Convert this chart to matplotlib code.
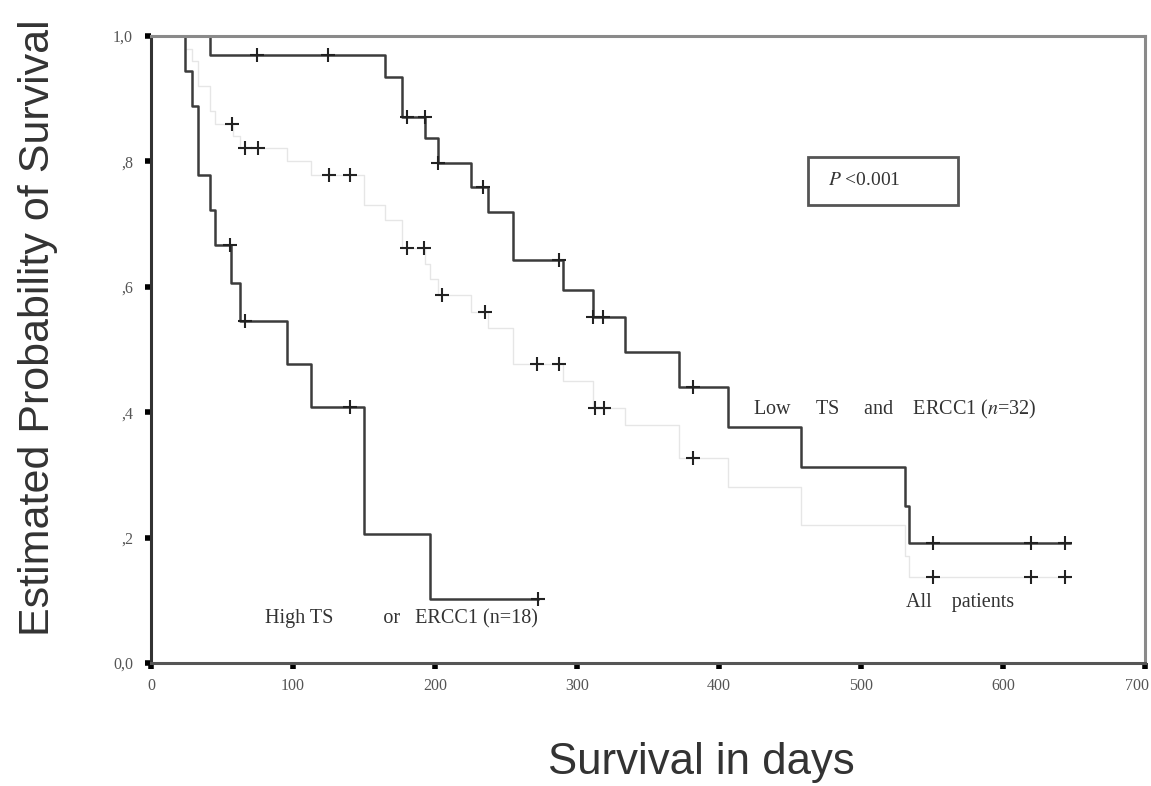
import matplotlib.pyplot as plt
from matplotlib.patches import Rectangle
from matplotlib.transforms import ScaledTranslation

plt.rcParams['mathtext.fontset'] = 'stix'

# Kaplan-Meier estimates read as step levels (time in days, survival after each event)
low_t = [0, 41.5, 165, 177, 193, 202, 225, 237, 255, 290, 311, 334, 372, 406, 458, 531, 534, 647]
low_s = [1.0, 0.969, 0.935, 0.871, 0.837, 0.797, 0.759, 0.719, 0.643, 0.595, 0.552, 0.496, 0.44, 0.376, 0.313, 0.25, 0.191, 0.191]
low_cens_t = [74.6, 124.6, 180, 193, 202, 234, 287, 311, 318, 382, 551, 620, 644]
low_cens_s = [0.969, 0.969, 0.871, 0.871, 0.797, 0.759, 0.643, 0.552, 0.552, 0.44, 0.191, 0.191, 0.191]

high_t = [0, 24, 29, 33, 41.5, 45, 56, 63, 96, 113, 150, 196.5, 272.5]
high_s = [1.0, 0.944, 0.889, 0.778, 0.722, 0.667, 0.606, 0.545, 0.477, 0.409, 0.205, 0.102, 0.102]
high_cens_t = [55.6, 66, 140, 272.5]
high_cens_s = [0.667, 0.545, 0.409, 0.102]

all_t = [0, 24, 29, 33, 41.5, 45, 58, 63, 96, 113, 150, 165, 177, 193, 196.5, 202, 225, 237, 255,
         290, 311, 334, 372, 406, 458, 531, 534, 647]
all_s = [1.0, 0.98, 0.96, 0.92, 0.88, 0.86, 0.84, 0.822, 0.80, 0.778, 0.73, 0.707, 0.662, 0.637, 0.613,
         0.587, 0.56, 0.535, 0.477, 0.45, 0.407, 0.38, 0.327, 0.28, 0.22, 0.17, 0.137, 0.137]
all_cens_t = [57, 66, 75, 125, 140, 180, 192, 205, 235, 272, 287, 313, 319, 382, 551, 620, 644]
all_cens_s = [0.86, 0.822, 0.822, 0.778, 0.778, 0.662, 0.662, 0.587, 0.56, 0.477, 0.477, 0.407, 0.407,
              0.327, 0.137, 0.137, 0.137]

xticks = [0, 100, 200, 300, 400, 500, 600, 700]
yticks = [0.0, 0.2, 0.4, 0.6, 0.8, 1.0]
ytick_labels = ['0,0', ',2', ',4', ',6', ',8', '1,0']

fig = plt.figure(figsize=(11.51, 7.86), dpi=100)
ax = fig.add_axes([0.1312, 0.1565, 0.8636, 0.7977])

line_col = '#3c3c3c'
mark = dict(color='#222222', ms=9.5, mew=1.5, ls='none', marker='+')

ax.step(all_t, all_s, where='post', color='#e6e6e6', lw=1.0)
ax.plot(all_cens_t, all_cens_s, **mark)

ax.step(low_t, low_s, where='post', color=line_col, lw=1.8)
ax.plot(low_cens_t, low_cens_s, **mark)

ax.step(high_t, high_s, where='post', color=line_col, lw=1.8)
ax.plot(high_cens_t, high_cens_s, **mark)

serif = 'Liberation Serif'
txt = dict(family=serif, fontsize=14.5, color='#333333', va='center')
ax.text(424, 0.405, 'Low     TS     and    ERCC1 ($n$=32)', **txt)
ax.text(80, 0.072, 'High TS          or   ERCC1 (n=18)', **txt)
ax.text(532, 0.096, 'All    patients', **txt)

# p-value box
ax.add_patch(Rectangle((463, 0.730), 105, 0.077, fill=False, ec='#555555', lw=2.0))
ax.text(477, 0.770, '$P$ <0.001', family=serif, fontsize=14, color='#333333', va='center')

ax.set_xlim(0, 700)
ax.set_ylim(0, 1.0)
ax.set_xticks(xticks)
ax.set_yticks(yticks)
ax.set_yticklabels(ytick_labels)
ax.tick_params(direction='out', length=4, width=4, color='black', labelsize=11.5,
               labelcolor='#555555')
ax.tick_params(axis='y', pad=9)
ax.tick_params(axis='x', pad=7)
for lab in ax.get_xticklabels() + ax.get_yticklabels():
    lab.set_family(serif)

# keep the last day label inside the canvas
last = ax.get_xticklabels()[-1]
last.set_transform(last.get_transform() + ScaledTranslation(-0.08, 0, fig.dpi_scale_trans))

ax.spines['left'].set_color('#333333')
ax.spines['bottom'].set_color('#555555')
ax.spines['top'].set_color('#8a8a8a')
ax.spines['right'].set_color('#8a8a8a')
for s in ax.spines.values():
    s.set_linewidth(2.2)

fig.text(0.033, 0.5833, 'Estimated Probability of Survival', family='Liberation Sans',
         fontsize=31, color='#333333', rotation=90, ha='center', va='center')
fig.text(0.609, 0.0295, 'Survival in days', family='Liberation Sans', fontsize=31.5,
         color='#333333', ha='center', va='center')

fig.savefig('out.png', dpi=100)
